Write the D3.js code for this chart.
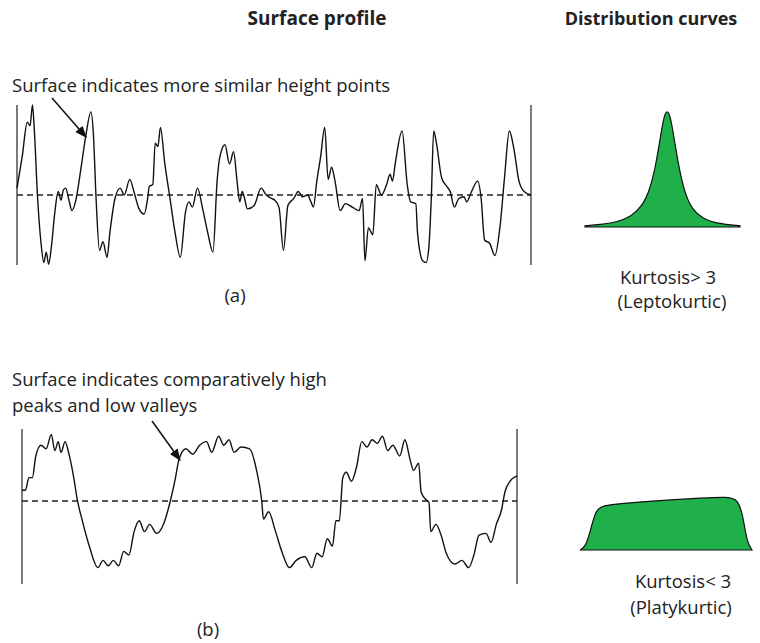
<!DOCTYPE html>
<html><head><meta charset="utf-8">
<script src="https://cdn.jsdelivr.net/npm/d3@7"></script>
<style>body{margin:0;background:#fff}text{font-family:"Open Sans",sans-serif;fill:#222}</style>
</head><body><svg id="c" width="760" height="643"></svg>
<script>
// profile (a): [x 0..100, height -100..100]
const rawA = [[50,270],[65,180],[80,80],[88,90],[95,30],[100,95],[110,300],[120,430],[128,485],[135,455],[142,490],[150,440],[160,340],[170,280],[178,305],[185,275],[192,270],[200,300],[210,335],[220,310],[235,220],[250,120],[265,50],[272,110],[280,300],[290,450],[300,425],[312,470],[320,400],[335,300],[350,270],[362,290],[378,245],[390,280],[405,330],[420,345],[430,300],[435,265],[445,260],[452,140],[460,150],[467,95],[480,200],[495,300],[510,400],[525,470],[540,340],[550,310],[560,325],[575,270],[590,330],[605,400],[620,455],[632,250],[640,180],[655,145],[668,200],[680,165],[690,250],[698,310],[705,280],[712,300],[720,330],[740,320],[760,270],[775,290],[790,300],[800,305],[812,325],[825,450],[838,320],[855,300],[868,280],[880,295],[895,290],[905,310],[912,325],[922,250],[933,180],[945,95],[955,245],[965,210],[975,250],[990,335],[1005,315],[1025,325],[1045,335],[1055,300],[1062,480],[1072,385],[1085,405],[1095,260],[1110,290],[1125,260],[1135,230],[1142,250],[1150,200],[1170,105],[1185,260],[1195,310],[1210,315],[1215,400],[1230,480],[1240,485],[1248,440],[1255,300],[1262,105],[1270,140],[1285,240],[1300,265],[1310,280],[1322,325],[1335,300],[1350,295],[1358,310],[1370,285],[1390,250],[1400,300],[1410,420],[1425,430],[1440,465],[1455,380],[1468,240],[1482,105],[1495,155],[1510,250],[1525,280],[1545,290]];
const profileA = rawA.map(([x, y]) => [(x - 50) / 1495 * 100, (290 - y) / 2.6]);
const rawB = [[65,205],[75,205],[85,170],[95,170],[105,110],[120,80],[135,90],[150,50],[160,95],[170,70],[178,100],[190,70],[200,100],[215,170],[225,230],[240,290],[260,360],[285,420],[300,400],[315,415],[330,400],[345,415],[360,375],[375,385],[390,320],[405,290],[420,320],[435,300],[455,325],[475,300],[495,235],[510,170],[520,120],[540,90],[560,105],[580,80],[600,70],[615,100],[635,55],[650,80],[665,65],[680,100],[700,85],[725,90],[745,150],[760,235],[765,285],[780,265],[800,320],[820,380],[840,420],[860,400],[885,390],[905,420],[920,380],[935,390],[950,340],[965,360],[975,290],[985,290],[995,170],[1005,155],[1020,180],[1035,140],[1050,70],[1065,85],[1080,65],[1095,75],[1110,55],[1125,95],[1140,80],[1160,110],[1175,65],[1190,120],[1200,150],[1215,130],[1222,210],[1235,230],[1245,240],[1250,320],[1265,300],[1280,330],[1295,380],[1320,410],[1340,400],[1360,420],[1375,385],[1390,330],[1410,325],[1425,350],[1440,300],[1455,260],[1465,210],[1480,180],[1500,165]];
const profileB = rawB.map(([x, y]) => [(x - 65) / 1435 * 100, (235 - y) / 2]);
// distribution curves: [value, density 0..1]
const lepto = [[0,0.01],[10,0.02],[20,0.04],[30,0.09],[37,0.18],[42,0.32],[46,0.55],[49,0.8],[51,0.95],[53,1],[55,0.95],[57,0.8],[60,0.55],[64,0.3],[69,0.15],[76,0.07],[85,0.03],[100,0.01]];
const platy = [[0,0],[3,0.05],[6,0.35],[9,0.75],[13,0.84],[25,0.88],[40,0.92],[55,0.95],[70,0.98],[85,1],[92,0.97],[95,0.6],[97,0.15],[100,0]];

const svg = d3.select('#c');
svg.append('defs').append('marker').attr('id','ar').attr('viewBox','0 0 10 10').attr('refX',9).attr('refY',5)
  .attr('markerWidth',8).attr('markerHeight',8).attr('orient','auto')
  .append('path').attr('d','M0,1L10,5L0,9Z').attr('fill','#111');

function profile(data, x0, x1, yTop, yBot, yMean, yMax) {
  const x = d3.scaleLinear().domain([0,100]).range([x0,x1]);
  const y = d3.scaleLinear().domain([0,yMax]).range([yMean,yTop]);
  const g = svg.append('g');
  [x0,x1].forEach(v => g.append('line').attr('x1',v).attr('x2',v).attr('y1',yTop).attr('y2',yBot).attr('stroke','#333').attr('stroke-width',1.3));
  g.append('line').attr('x1',x0).attr('x2',x1).attr('y1',y(0)).attr('y2',y(0)).attr('stroke','#222').attr('stroke-width',1.4).attr('stroke-dasharray','6,4');
  g.append('path').datum(data).attr('d',d3.line().x(d=>x(d[0])).y(d=>y(d[1])).curve(d3.curveMonotoneX))
    .attr('fill','none').attr('stroke','#111').attr('stroke-width',1.4);
}
profile(profileA, 17, 531, 105, 265, 195, 100);
profile(profileB, 22, 517, 429, 584, 501, 100);

function dist(data, x0, x1, base, top) {
  const x = d3.scaleLinear().domain([0,100]).range([x0,x1]);
  const y = d3.scaleLinear().domain([0,1]).range([base,top]);
  svg.append('path').datum(data).attr('d',d3.area().x(d=>x(d[0])).y0(base).y1(d=>y(d[1])).curve(d3.curveBasis))
    .attr('fill','#1fb04a').attr('stroke','#111').attr('stroke-width',1.2);
}
dist(lepto, 585, 740, 227, 110);
dist(platy, 580, 752, 550, 497);

const T = (t,x,y,o={}) => svg.append('text').attr('x',x).attr('y',y).attr('text-anchor',o.a||'start')
  .attr('font-size',o.s||18.5).attr('font-weight',o.b?'bold':'normal').text(t);
T('Surface profile',317,25,{a:'middle',b:1,s:19});
T('Distribution curves',651,25,{a:'middle',b:1,s:18});
T('Surface indicates more similar height points',12,92);
T('(a)',235,302,{a:'middle'});
T('Kurtosis> 3',668,284,{a:'middle'});
T('(Leptokurtic)',672,308,{a:'middle'});
T('Surface indicates comparatively high',12,386);
T('peaks and low valleys',12,412);
T('(b)',208,636,{a:'middle'});
T('Kurtosis< 3',683,588,{a:'middle'});
T('(Platykurtic)',681,614,{a:'middle'});
const arrows = [[52,98,86,137],[152,421,180,460]];
arrows.forEach(a => svg.append('line').attr('x1',a[0]).attr('y1',a[1]).attr('x2',a[2]).attr('y2',a[3])
  .attr('stroke','#111').attr('stroke-width',1.5).attr('marker-end','url(#ar)'));
</script></body></html>
